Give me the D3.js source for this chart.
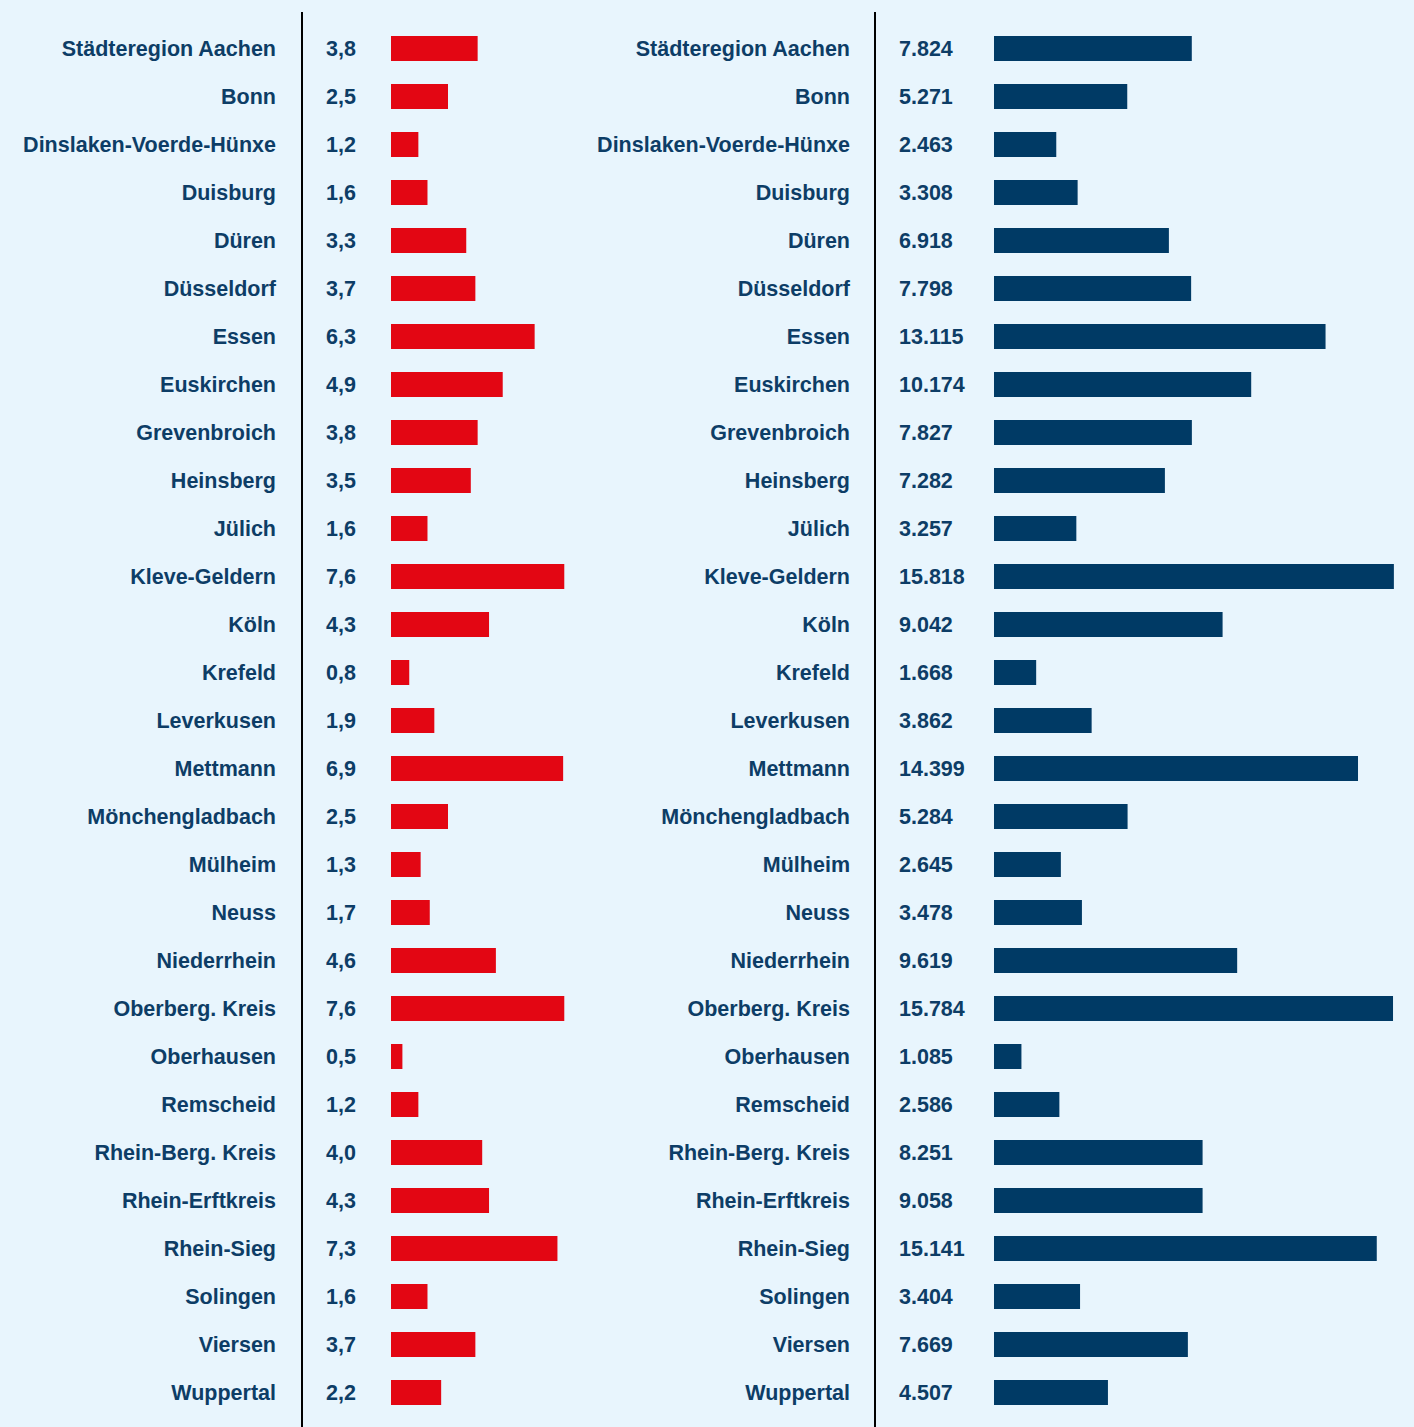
<!DOCTYPE html>
<html>
<head>
<meta charset="utf-8">
<script src="https://cdn.jsdelivr.net/npm/d3@7"></script>
<style>
  html, body { margin: 0; padding: 0; background: #e8f5fd; }
  svg { display: block; }
  text { font-family: "Liberation Sans", Arial, sans-serif; font-weight: bold; fill: #0d3d66; }
</style>
</head>
<body>
<svg id="chart"></svg>
<script>
let width = 1414, height = 1427;

let regions = ["Städteregion Aachen", "Bonn", "Dinslaken-Voerde-Hünxe", "Duisburg", "Düren",
    "Düsseldorf", "Essen", "Euskirchen", "Grevenbroich", "Heinsberg", "Jülich", "Kleve-Geldern",
    "Köln", "Krefeld", "Leverkusen", "Mettmann", "Mönchengladbach", "Mülheim", "Neuss",
    "Niederrhein", "Oberberg. Kreis", "Oberhausen", "Remscheid", "Rhein-Berg. Kreis",
    "Rhein-Erftkreis", "Rhein-Sieg", "Solingen", "Viersen", "Wuppertal"];

// percentage labels as printed
let pct = [3.8, 2.5, 1.2, 1.6, 3.3, 3.7, 6.3, 4.9, 3.8, 3.5, 1.6, 7.6, 4.3, 0.8, 1.9, 6.9,
    2.5, 1.3, 1.7, 4.6, 7.6, 0.5, 1.2, 4.0, 4.3, 7.3, 1.6, 3.7, 2.2];
// red bar lengths as drawn (Mettmann's bar is longer than its label says)
let pctBar = [3.8, 2.5, 1.2, 1.6, 3.3, 3.7, 6.3, 4.9, 3.8, 3.5, 1.6, 7.6, 4.3, 0.8, 1.9, 7.55,
    2.5, 1.3, 1.7, 4.6, 7.6, 0.5, 1.2, 4.0, 4.3, 7.3, 1.6, 3.7, 2.2];

// count labels as printed
let counts = [7824, 5271, 2463, 3308, 6918, 7798, 13115, 10174, 7827, 7282, 3257, 15818,
    9042, 1668, 3862, 14399, 5284, 2645, 3478, 9619, 15784, 1085, 2586, 8251, 9058, 15141,
    3404, 7669, 4507];
// blue bar lengths as drawn (Heinsberg and Rhein-Erftkreis bars differ from labels)
let countBar = [7824, 5271, 2463, 3308, 6918, 7798, 13115, 10174, 7827, 6760, 3257, 15818,
    9042, 1668, 3862, 14399, 5284, 2645, 3478, 9619, 15784, 1085, 2586, 8251, 8251, 15141,
    3404, 7669, 4507];

let de = d3.formatLocale({decimal: ",", thousands: ".", grouping: [3], currency: ["", " €"]});
let fmtPct = de.format(".1f");
let fmtCnt = de.format(",d");

let svg = d3.select("#chart")
    .attr("width", width)
    .attr("height", height);

let y = d3.scalePoint()
    .domain(regions)
    .range([48.5, 1392.5]);

let xPct = d3.scaleLinear().domain([0, 8]).range([391, 391 + 8 * 22.8]);
let xCnt = d3.scaleLinear().domain([0, 16000]).range([994, 994 + 16000 * 0.02528]);

let barH = 25;

function panel(labelX, lineX, valueX, xs, barVals, labels, color) {
    let g = svg.append("g");
    g.append("line")
        .attr("x1", lineX).attr("x2", lineX)
        .attr("y1", 12).attr("y2", height)
        .attr("stroke", "#000")
        .attr("stroke-width", 2);
    g.selectAll("text.name")
        .data(regions)
        .join("text")
        .attr("class", "name")
        .attr("x", labelX)
        .attr("y", d => y(d))
        .attr("dy", "0.35em")
        .attr("text-anchor", "end")
        .style("font-size", "21.5px")
        .text(d => d);
    g.selectAll("text.val")
        .data(labels)
        .join("text")
        .attr("class", "val")
        .attr("x", valueX)
        .attr("y", (d, i) => y(regions[i]))
        .attr("dy", "0.35em")
        .style("font-size", "21.5px")
        .text(d => d);
    g.selectAll("rect")
        .data(barVals)
        .join("rect")
        .attr("x", xs(0))
        .attr("y", (d, i) => y(regions[i]) - barH / 2)
        .attr("width", d => xs(d) - xs(0))
        .attr("height", barH)
        .attr("fill", color);
}

panel(276, 302, 326, xPct, pctBar, pct.map(fmtPct), "#e30613");
panel(850, 875, 899, xCnt, countBar, counts.map(fmtCnt), "#003a65");
</script>
</body>
</html>
